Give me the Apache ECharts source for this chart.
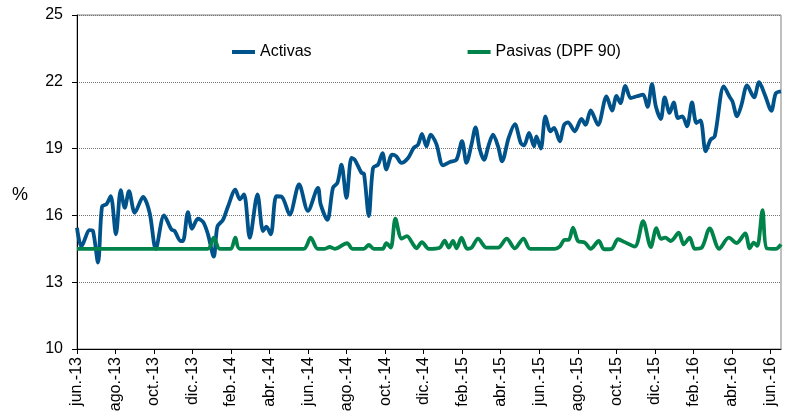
<!DOCTYPE html>
<html>
<head>
<meta charset="utf-8">
<script src="https://cdn.jsdelivr.net/npm/echarts@6/dist/echarts.min.js"></script>
<style>html,body{margin:0;padding:0;background:#fff}#c{width:785px;height:420px}</style>
</head>
<body>
<div id="c"></div>
<script>
// x positions: months elapsed since June 2013 (0 = jun.-13)
var tickLabels = ['jun.-13','ago.-13','oct.-13','dic.-13','feb.-14','abr.-14','jun.-14','ago.-14','oct.-14','dic.-14','feb.-15','abr.-15','jun.-15','ago.-15','oct.-15','dic.-15','feb.-16','abr.-16','jun.-16'];

var activasX = [0,0.23,0.66,0.83,1.09,1.30,1.53,1.75,2.02,2.27,2.48,2.70,3.00,3.43,3.77,4.09,4.52,4.90,5.07,5.38,5.50,5.76,5.97,6.28,6.55,6.80,7.10,7.29,7.58,7.84,8.22,8.45,8.67,8.97,9.37,9.66,9.83,10.06,10.35,10.64,11.04,11.53,11.99,12.51,12.65,13.00,13.29,13.52,13.73,13.99,14.25,14.42,14.77,14.90,15.15,15.37,15.63,15.86,16.06,16.36,16.58,16.84,17.19,17.48,17.71,17.91,18.14,18.36,18.66,19.00,19.36,19.70,19.99,20.22,20.48,20.69,20.91,21.13,21.38,21.60,21.86,22.07,22.41,22.73,23.04,23.21,23.47,23.73,23.85,24.08,24.32,24.58,24.77,25.06,25.29,25.49,25.84,26.19,26.40,26.67,27.05,27.49,27.78,28.01,28.21,28.47,28.75,29.07,29.39,29.62,29.85,30.05,30.31,30.51,30.77,30.98,31.20,31.43,31.67,31.93,32.16,32.37,32.64,32.89,33.11,33.58,33.89,34.03,34.27,34.50,34.79,35.15,35.41,35.71,36.05,36.28,36.55];
var activasY = [15.45,14.6,15.34,15.3,13.88,16.4,16.5,16.86,15.15,17.13,16.34,17.09,16.12,16.83,16.12,14.5,16.0,15.37,15.3,14.85,14.85,16.15,15.4,15.85,15.7,15.15,14.15,15.5,15.8,16.4,17.16,16.72,16.94,15.0,16.94,15.3,15.5,15.15,16.86,16.83,16.04,17.39,16.2,17.24,16.5,15.8,17.24,17.46,18.28,16.79,18.58,18.5,17.91,17.87,15.97,18.13,18.28,18.8,18.06,18.73,18.65,18.36,18.58,19.03,19.18,19.66,19.1,19.63,19.2,18.25,18.4,18.5,19.33,18.36,19.18,19.95,18.97,18.5,19.18,19.63,19.1,18.43,19.48,20.1,19.25,19.15,19.7,19.1,19.55,19.0,20.45,19.78,19.93,19.33,20.07,20.18,19.78,20.33,20.07,20.71,20.07,21.34,20.71,21.37,21.04,21.82,21.27,21.35,21.42,20.87,21.9,20.9,20.33,21.3,20.6,21.07,20.37,20.45,20.0,21.07,20.15,20.27,18.88,19.4,19.55,21.79,21.31,21.12,20.45,20.97,21.84,21.3,21.98,21.42,20.7,21.48,21.57];

var pasivasX = [0,6.79,7.10,7.41,7.98,8.22,8.45,11.77,12.13,12.50,12.86,13.12,13.38,14.02,14.31,14.89,15.15,15.41,15.87,16.06,16.29,16.53,16.85,17.13,17.45,17.62,17.91,18.26,18.83,19.09,19.30,19.52,19.71,19.96,20.26,20.49,20.82,21.26,21.86,22.31,22.73,23.18,23.53,24.80,25.06,25.32,25.53,25.75,26.01,26.36,26.67,27.09,27.36,27.75,28.09,28.44,28.96,29.39,29.79,30.08,30.31,30.54,30.83,31.24,31.50,31.81,32.07,32.43,32.85,33.34,33.84,34.25,34.69,34.93,35.13,35.32,35.59,35.81,36.28,36.55];
var pasivasY = [14.5,14.5,15.0,14.5,14.5,15.0,14.5,14.5,15.0,14.5,14.5,14.58,14.5,14.75,14.5,14.5,14.67,14.5,14.5,14.75,14.55,15.85,14.96,15.07,14.7,14.52,14.8,14.5,14.55,14.87,14.55,14.85,14.52,15.0,14.5,14.55,14.96,14.55,14.55,14.96,14.52,14.96,14.5,14.5,14.6,14.9,14.9,15.45,14.85,14.78,14.5,14.85,14.48,14.5,14.93,14.8,14.6,15.74,14.58,15.43,14.95,15.0,14.85,15.22,14.7,15.0,14.5,14.55,15.42,14.5,15.0,14.76,15.19,14.52,14.78,14.63,16.24,14.52,14.5,14.7];

var yTicks = {min: 10, max: 25, interval: 3};

function zip(xs, ys) { return xs.map(function (x, i) { return [x, ys[i]]; }); }

var chart = echarts.init(document.getElementById('c'), null, {renderer: 'canvas'});
var font = '"Liberation Sans", Arial, sans-serif';
chart.setOption({
  animation: false,
  backgroundColor: '#fff',
  grid: {left: 77, right: 4, top: 15, height: 334, show: true, borderColor: '#808080', borderWidth: 1},
  legend: {
    left: 227, top: 39, itemWidth: 23, itemHeight: 4, itemGap: 156, icon: 'rect',
    textStyle: {fontFamily: font, fontSize: 16, color: '#000'},
    data: ['Activas', 'Pasivas (DPF 90)']
  },
  graphic: [{type: 'text', left: 12, top: 186, style: {text: '%', font: '18px ' + font, fill: '#000'}}],
  xAxis: {
    type: 'value', min: 0, max: 36.55, interval: 2,
    axisLine: {lineStyle: {color: '#000', width: 1}},
    axisTick: {show: true, length: 5, lineStyle: {color: '#000'}},
    splitLine: {show: false},
    axisLabel: {
      rotate: 90, margin: 8, fontFamily: font, fontSize: 16, color: '#000',
      showMaxLabel: false,
      formatter: function (v) {
        var r = Math.round(v);
        return (Math.abs(v - r) < 1e-6 && r % 2 === 0) ? tickLabels[r / 2] : '';
      }
    }
  },
  yAxis: {
    type: 'value', min: yTicks.min, max: yTicks.max, interval: yTicks.interval,
    axisLine: {show: true, lineStyle: {color: '#000', width: 1}},
    axisTick: {show: true, length: 5, lineStyle: {color: '#000'}},
    splitLine: {show: true, lineStyle: {type: 'dotted', color: '#777', width: 1}},
    axisLabel: {margin: 14, fontFamily: font, fontSize: 16, color: '#000'}
  },
  series: [
    {name: 'Activas', type: 'line', data: zip(activasX, activasY), symbol: 'none', smooth: 0.3,
     lineStyle: {color: '#00538A', width: 3.8}, itemStyle: {color: '#00538A'}},
    {name: 'Pasivas (DPF 90)', type: 'line', data: zip(pasivasX, pasivasY), symbol: 'none', smooth: 0.3,
     lineStyle: {color: '#00834A', width: 3.8}, itemStyle: {color: '#00834A'}}
  ]
});
</script>
</body>
</html>
